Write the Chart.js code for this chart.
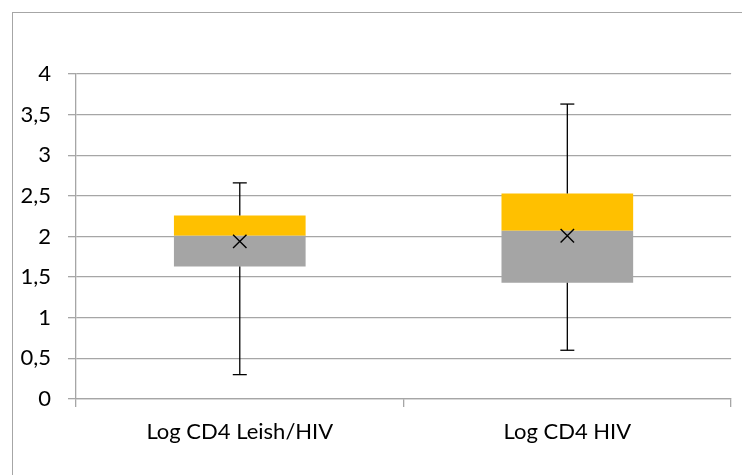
<!DOCTYPE html>
<html>
<head>
<meta charset="utf-8">
<script src="https://cdn.jsdelivr.net/npm/chart.js@4.4.1/dist/chart.umd.min.js"></script>
<style>
    html, body { margin: 0; padding: 0; background: #fff; overflow: hidden; }
    #wrap { position: relative; width: 742px; height: 475px; }
    #frame {
        position: absolute; left: 12px; top: 12px; width: 760px; height: 500px;
        border-left: 1px solid #a6a6a6; border-top: 1px solid #a6a6a6;
    }
    #boxChart { position: absolute; left: 0; top: 0; }
</style>
</head>
<body>
<div id="wrap">
    <div id="frame"></div>
    <canvas id="boxChart" width="742" height="475"></canvas>
</div>
<script>
// Box plot data
const categories = ['Log CD4 Leish/HIV', 'Log CD4 HIV'];
const whiskerMin = [0.30, 0.60];
const q1 = [1.63, 1.43];
const median = [2.01, 2.07];
const q3 = [2.26, 2.53];
const whiskerMax = [2.66, 3.63];
const mean = [1.94, 2.01];
const yTickLabels = ['0', '0,5', '1', '1,5', '2', '2,5', '3', '3,5', '4'];

const gridGray = '#a6a6a6';
const fontFamily = 'Lato, "Open Sans", sans-serif';

// Whiskers with end caps, drawn via the chart scales
const whiskerPlugin = {
    id: 'whiskers',
    afterDatasetsDraw(chart) {
        const ctx = chart.ctx;
        const xs = chart.scales.x;
        const ys = chart.scales.y;
        ctx.save();
        ctx.strokeStyle = '#000';
        ctx.lineWidth = 1.3;
        categories.forEach((c, i) => {
            const x = xs.getPixelForValue(i);
            const segs = [[whiskerMin[i], q1[i]], [q3[i], whiskerMax[i]]];
            segs.forEach(s => {
                ctx.beginPath();
                ctx.moveTo(x, ys.getPixelForValue(s[0]));
                ctx.lineTo(x, ys.getPixelForValue(s[1]));
                ctx.stroke();
            });
            [whiskerMin[i], whiskerMax[i]].forEach(v => {
                const y = ys.getPixelForValue(v);
                ctx.beginPath();
                ctx.moveTo(x - 7, y);
                ctx.lineTo(x + 7, y);
                ctx.stroke();
            });
        });
        ctx.restore();
    }
};

new Chart(document.getElementById('boxChart'), {
    data: {
        labels: categories,
        datasets: [{
            type: 'bar',
            label: 'Q1-Median',
            data: q1.map((v, i) => [v, median[i]]),
            backgroundColor: '#a5a5a5',
            grouped: false,
            categoryPercentage: 1,
            barPercentage: 0.402,
            order: 2
        }, {
            type: 'bar',
            label: 'Median-Q3',
            data: median.map((v, i) => [v, q3[i]]),
            backgroundColor: '#ffc000',
            grouped: false,
            categoryPercentage: 1,
            barPercentage: 0.402,
            order: 2
        }, {
            type: 'line',
            label: 'Mean',
            data: mean,
            showLine: false,
            pointStyle: 'crossRot',
            pointRadius: 9.5,
            pointBorderColor: '#000',
            pointBorderWidth: 1.4,
            pointBackgroundColor: '#000',
            order: 1
        }]
    },
    options: {
        responsive: false,
        animation: false,
        layout: { padding: { top: 74, right: 3, left: 1, bottom: 0 } },
        plugins: {
            legend: { display: false },
            tooltip: { enabled: false }
        },
        scales: {
            x: {
                offset: true,
                grid: { drawOnChartArea: false, color: gridGray, lineWidth: 1.3, tickLength: 8, offset: true },
                border: { color: gridGray, width: 1.3 },
                ticks: { color: '#000', font: { family: fontFamily, size: 22 }, padding: 12, maxRotation: 0 },
                afterFit: scale => { scale.height = 76; }
            },
            y: {
                min: 0,
                max: 4,
                grid: { color: gridGray, lineWidth: 1.3, tickLength: 8 },
                border: { color: gridGray, width: 1.3 },
                ticks: {
                    stepSize: 0.5,
                    color: '#000',
                    font: { family: fontFamily, size: 22 },
                    padding: 17,
                    callback: (v, i) => yTickLabels[i]
                },
                afterFit: scale => { scale.width = 75; }
            }
        }
    },
    plugins: [whiskerPlugin]
});
</script>
</body>
</html>
